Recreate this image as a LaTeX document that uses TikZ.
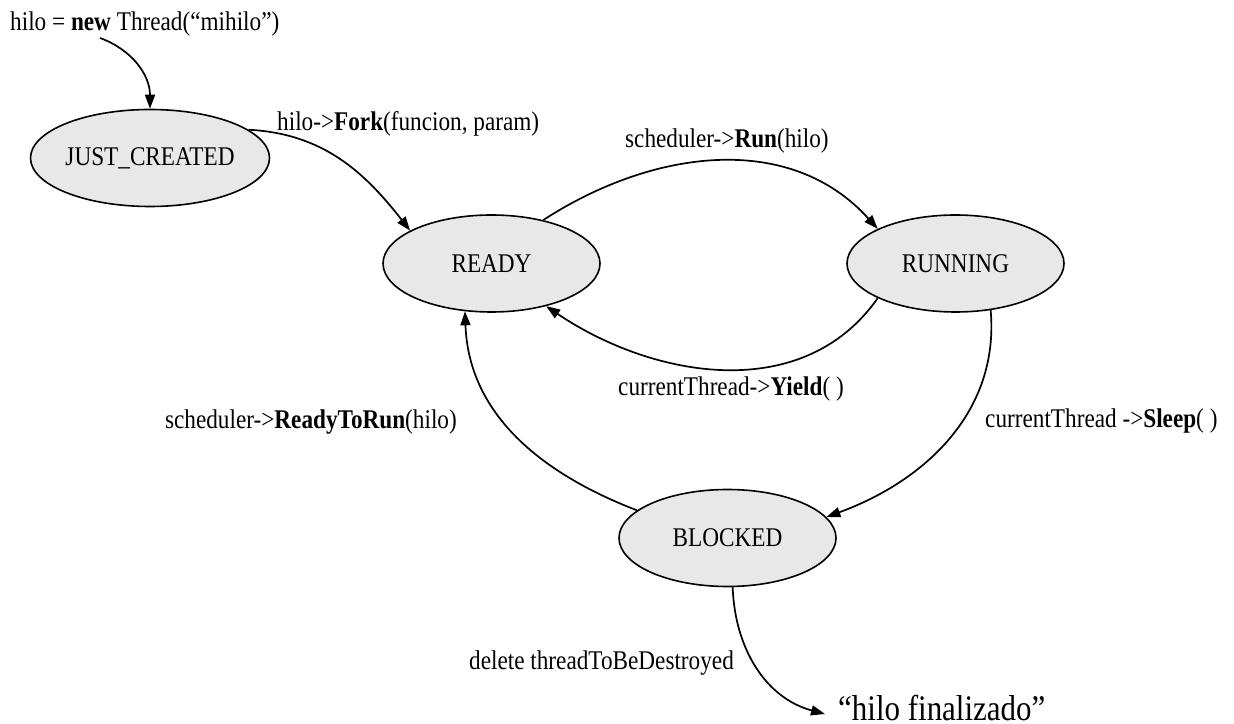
\documentclass[tikz,border=0pt]{standalone}
\usepackage{fontspec}
\setmainfont{Liberation Serif}[FakeStretch=0.86]
\usepackage{tikz}
\usetikzlibrary{arrows.meta,positioning,shapes.geometric}
\definecolor{cFill}{HTML}{E8E8E8}
\tikzset{
  estado/.style={ellipse, draw=black, line width=1.6pt, fill=cFill,
                 minimum width=217pt, minimum height=97pt, inner sep=0pt},
  flow/.style={-{Triangle[length=14pt, width=10pt]}, line width=1.7pt},
  lbl/.style={inner sep=0pt},
}
\begin{document}
\begin{tikzpicture}[x=1pt, y=1pt, font=\fontsize{27}{30}\selectfont]
  \useasboundingbox (0,0) rectangle (1234,723);
  \node[estado] (jc) at (150,565) {JUST\_CREATED};
  \node[estado] (ready) at (491.5,459.5) {READY};
  \node[estado] (running) at (955.5,459.5) {RUNNING};
  \node[estado] (blocked) at (727.5,185) {BLOCKED};
  \node[lbl, anchor=base west] (nuevo) at (10,692) {hilo = \textbf{new} Thread(“mihilo”)};
  \node[lbl, anchor=base west, font=\fontsize{36}{40}\selectfont] (fin) at (838,3) {“hilo finalizado”};
  \coordinate (born) at (100,685);
  \draw[flow] (born) to[out=-20, in=90] (jc.north);
  \draw[flow] (jc.16) to[out=-3, in=128] (ready.158);
  \draw[flow] (ready.40) to[out=33, in=132] (running.156);
  \draw[flow] (running.204) to[out=235, in=-34] (ready.-38);
  \draw[flow] (running.-53) to[out=-85, in=20] (blocked.12);
  \draw[flow] (blocked.163) to[out=159, in=-88] (ready.-119);
  \draw[flow] (blocked.-84) to[out=-88, in=165] ([xshift=-13pt,yshift=6pt]fin.base west);
  \node[lbl, anchor=base west] (lFork) at (277,592) {hilo->\textbf{Fork}(funcion, param)};
  \node[lbl, anchor=base west] (lRun) at (625,575) {scheduler->\textbf{Run}(hilo)};
  \node[lbl, anchor=base west] (lYield) at (618,327) {currentThread->\textbf{Yield}( )};
  \node[lbl, anchor=base west] (lSleep) at (985,295) {currentThread ->\textbf{Sleep}( )};
  \node[lbl, anchor=base east] (lReady) at (457,294) {scheduler->\textbf{ReadyToRun}(hilo)};
  \node[lbl, anchor=base east] (lDel) at (734,53) {delete threadToBeDestroyed};
\end{tikzpicture}
\end{document}
